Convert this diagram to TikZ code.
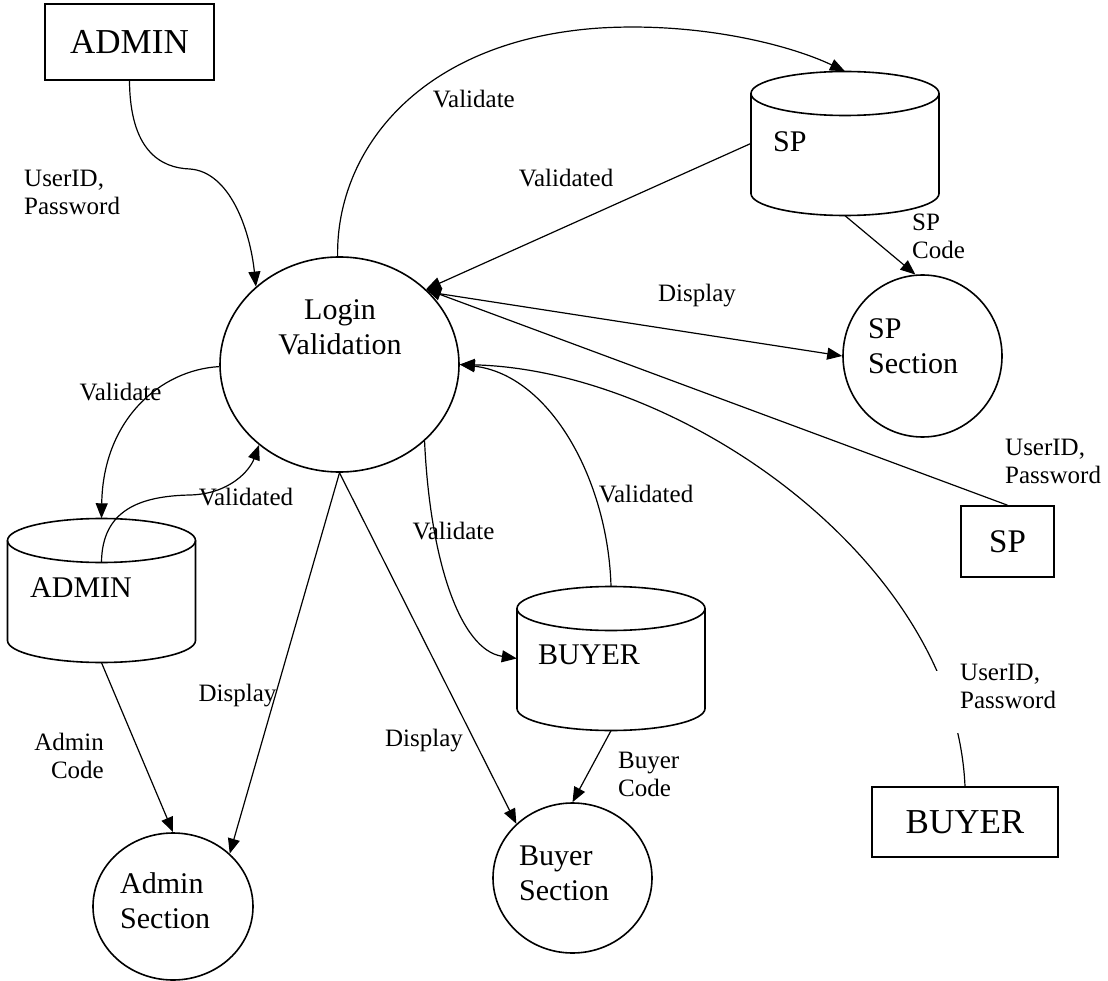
\documentclass[tikz,border=0pt]{standalone}
\usepackage{fontspec}
\setmainfont{Liberation Serif}
\usetikzlibrary{shapes.geometric,arrows.meta,calc}

\newcommand\lblfont{\fontsize{25}{28}\selectfont}
\newcommand\procfont{\fontsize{30}{35}\selectfont}
\newcommand\extfont{\fontsize{35}{40}\selectfont}

\tikzset{
  outline/.style={line width=1.6pt},
  extbox/.style={draw, outline, rectangle, inner sep=0pt, font=\extfont},
  procnode/.style={draw, outline, ellipse, inner sep=0pt},
  storebox/.style={rectangle, inner sep=0pt, minimum width=188pt, minimum height=144pt},
  proctext/.style={font=\procfont, inner sep=0pt, align=left, anchor=west},
  lbl/.style={font=\lblfont, inner sep=0pt, align=left},
  flow/.style={line width=1.2pt, -{Triangle[length=15pt,width=12pt]}},
}

% data store drawn as a cylinder around a named box node
\newcommand\storeoutline[1]{%
  \begin{scope}[shift={(#1.center)}]
    \draw[outline] (0,-50) ellipse [x radius=94pt, y radius=22pt];
    \draw[outline] (-94,-50) -- (-94,50)
      .. controls (-94,62.1) and (-51.9,72) .. (0,72)
      .. controls (51.9,72) and (94,62.1) .. (94,50) -- (94,-50);
  \end{scope}}

\begin{document}
\begin{tikzpicture}[x=1pt, y=-1pt]
\useasboundingbox (0,0) rectangle (1108,981);

% external entities
\node[extbox, minimum width=169pt, minimum height=76pt] (adminext) at (129.5,42) {ADMIN};
\node[extbox, minimum width=93pt, minimum height=71pt, font=\fontsize{33}{38}\selectfont] (spext) at (1007.5,541.5) {SP};
\node[extbox, minimum width=186pt, minimum height=70pt] (buyerext) at (965,822) {BUYER};

% processes
\node[procnode, minimum width=239pt, minimum height=215pt] (login) at (339.5,364.5) {};
\node[procnode, minimum width=159pt, minimum height=162pt] (spsec) at (922.5,356) {};
\node[procnode, minimum width=160pt, minimum height=147pt] (adminsec) at (173,906.5) {};
\node[procnode, minimum width=159pt, minimum height=150pt] (buyersec) at (572.5,878) {};

\node[proctext, align=center, anchor=center] (logintxt) at ($(login.center)+(0.5,-37.5)$) {Login\\Validation};
\node[proctext] (spsectxt) at ($(spsec.center)+(-54.5,-10)$) {SP\\Section};
\node[proctext] (adminsectxt) at ($(adminsec.center)+(-53,-6)$) {Admin\\Section};
\node[proctext] (buyersectxt) at ($(buyersec.center)+(-53.5,-5)$) {Buyer\\Section};

% data stores
\node[storebox] (spdb) at (845,143.5) {};
\node[storebox] (admindb) at (101.5,590.5) {};
\node[storebox] (buyerdb) at (611,658.5) {};
\storeoutline{spdb}
\storeoutline{admindb}
\storeoutline{buyerdb}
\node[proctext] (spdbtxt) at ($(spdb.center)+(-72,-2)$) {SP};
\node[proctext] (admindbtxt) at ($(admindb.center)+(-71.5,-2.5)$) {ADMIN};
\node[proctext] (buyerdbtxt) at ($(buyerdb.center)+(-73,-3.5)$) {BUYER};

% flows of the admin
\draw[flow] (adminext.south) .. controls (130,150) and (160,168) .. (190,169)
  .. controls (230,172) and (250,230) .. (login.137);
\draw[flow] (login.181) .. controls (160,370) and (103,420) .. (admindb.north);
\draw[flow] ($(admindb.north)+(0,44)$) .. controls (102,510) and (140,496) .. (190,495)
  .. controls (230,494) and (250,470) .. (login.225);
\draw[flow] (admindb.south) -- (adminsec.north);
\draw[flow] (login.south) -- (adminsec.43);

% flows of the service provider
\draw[flow] (login.91) .. controls (336,150) and (420,40) .. (600,28)
  .. controls (700,22) and (790,45) .. (spdb.north);
\draw[flow] (spdb.west) -- (login.41);
\draw[flow] (login.39) -- (spsec.west);
\draw[flow] (spdb.south) -- (spsec.95);
\draw[flow] (spext.north) -- (login.41);

% flows of the buyer
\draw[flow] (buyerext.north) .. controls (955,560) and (680,370) .. (login.east);
\fill[white] (928,671) rectangle (962,733);
\draw[flow] (buyerdb.north) .. controls (608,480) and (550,375) .. (login.east);
\draw[flow] (login.318) .. controls (430,560) and (460,650) .. (buyerdb.west);
\draw[flow] (buyerdb.south) -- (buyersec.north);
\draw[flow] (login.south) -- (buyersec.136);

% flow labels
\node[lbl, anchor=west] (lauth1) at (24,192) {UserID,\\Password};
\node[lbl, anchor=east] (lval1) at (515,99) {Validate};
\node[lbl] (lvd1) at (566,178) {Validated};
\node[lbl] (ldisp1) at (697,295.5) {Display};
\node[lbl, anchor=west] (lcode1) at (912,236.5) {SP\\Code};
\node[lbl, anchor=west] (lauth2) at (1005,461.5) {UserID,\\Password};
\node[lbl] (lval2) at (120.5,392) {Validate};
\node[lbl] (lvd2) at (246,497) {Validated};
\node[lbl] (ldisp2) at (237.5,695.5) {Display};
\node[lbl, anchor=east, align=right] (lcode2) at (104,756) {Admin\\Code};
\node[lbl] (lval3) at (453.5,531) {Validate};
\node[lbl] (lvd3) at (646,494) {Validated};
\node[lbl] (ldisp3) at (424,740.5) {Display};
\node[lbl, anchor=west] (lcode3) at (618,774) {Buyer\\Code};
\node[lbl, anchor=west] (lauth3) at (960,686) {UserID,\\Password};
\end{tikzpicture}
\end{document}
